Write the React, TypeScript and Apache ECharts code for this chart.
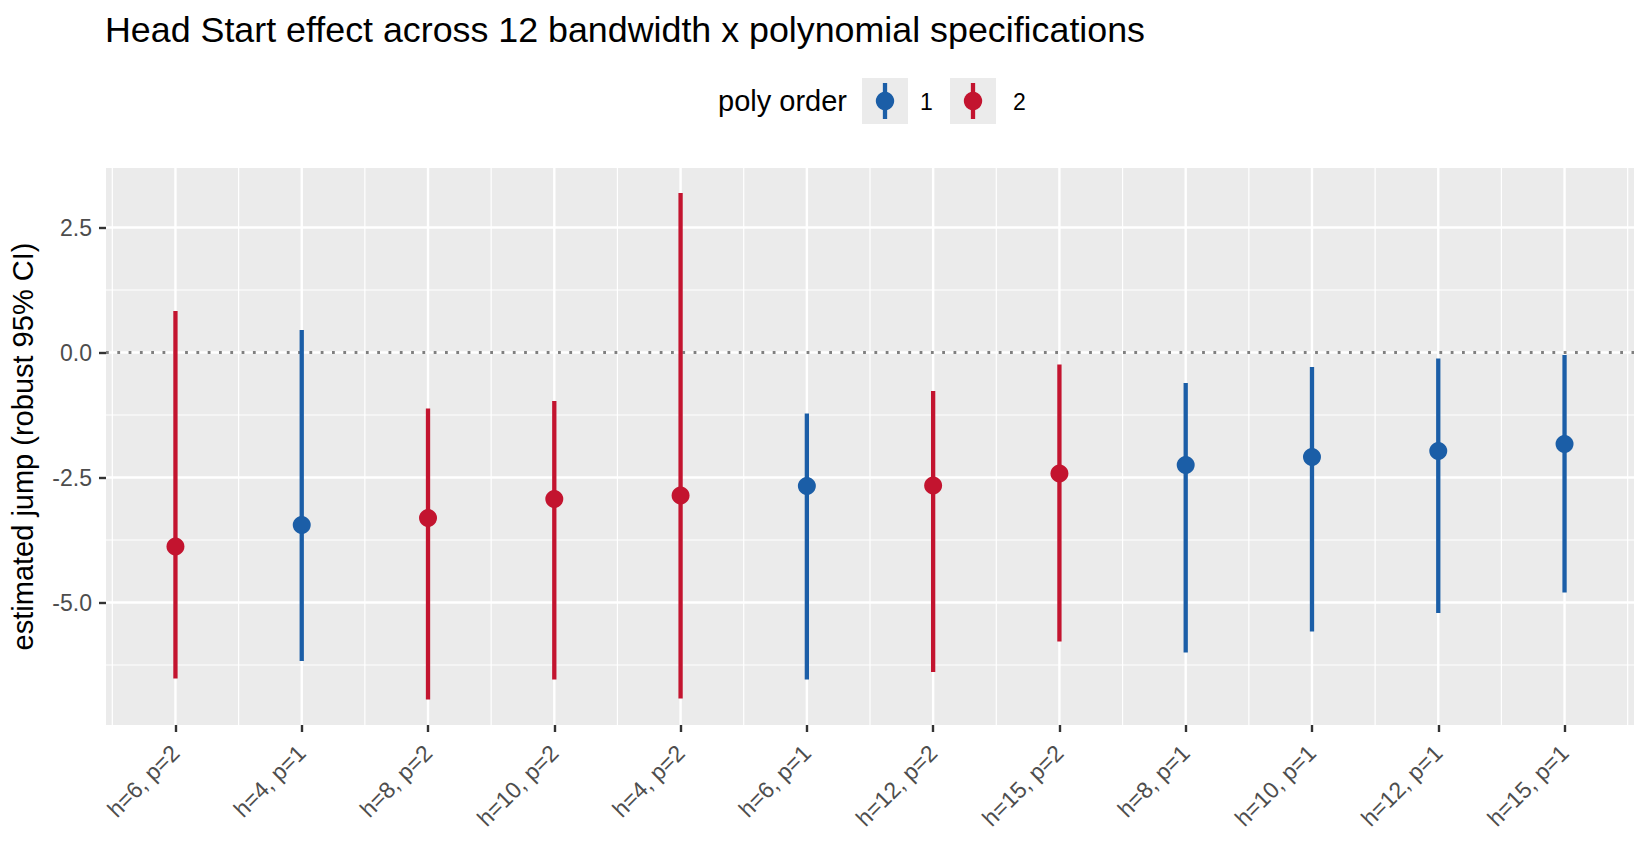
import React, { useEffect, useRef } from "react";
import * as echarts from "echarts";

// ---- data ----
const categories = [
  "h=6, p=2",
  "h=4, p=1",
  "h=8, p=2",
  "h=10, p=2",
  "h=4, p=2",
  "h=6, p=1",
  "h=12, p=2",
  "h=15, p=2",
  "h=8, p=1",
  "h=10, p=1",
  "h=12, p=1",
  "h=15, p=1",
];
const polyOrder = [2, 1, 2, 2, 2, 1, 2, 2, 1, 1, 1, 1];
const estimate = [-3.88, -3.45, -3.31, -2.93, -2.86, -2.67, -2.66, -2.42, -2.25, -2.09, -1.97, -1.83];
const ciLow = [-6.52, -6.17, -6.94, -6.54, -6.92, -6.54, -6.39, -5.78, -6.0, -5.58, -5.21, -4.8];
const ciHigh = [0.83, 0.45, -1.12, -0.97, 3.19, -1.22, -0.77, -0.24, -0.61, -0.29, -0.12, -0.05];

const yTicks = [-5, -2.5, 0, 2.5];
const yMinor = [-6.25, -3.75, -1.25, 1.25];
const xTicks = categories.map((_, i) => i);
const xMinor = [-0.5, 0.5, 1.5, 2.5, 3.5, 4.5, 5.5, 6.5, 7.5, 8.5, 9.5, 10.5, 11.5];
const legendOrders = [1, 2];
const refLine = [0];

const COLORS: Record<number, string> = { 1: "#1B5EA7", 2: "#C3142F" };
const FONT = "'Liberation Sans', Arial, Helvetica, sans-serif";

const vLineRender = (w: number) => (params: any, api: any) => {
  const cs = params.coordSys;
  const x = api.coord([api.value(0), 0])[0];
  return {
    type: "line",
    shape: { x1: x, y1: cs.y, x2: x, y2: cs.y + cs.height },
    style: { stroke: "#FFFFFF", lineWidth: w },
  };
};
const hLineRender = (w: number, stroke: string, dash?: number[]) => (params: any, api: any) => {
  const cs = params.coordSys;
  const y = api.coord([0, api.value(1)])[1];
  return {
    type: "line",
    shape: { x1: cs.x, y1: y, x2: cs.x + cs.width, y2: y },
    style: { stroke, lineWidth: w, lineDash: dash },
  };
};

export default function App() {
  const ref = useRef<HTMLDivElement>(null);
  useEffect(() => {
    document.body.style.margin = "0";
    const chart = echarts.init(ref.current!, null, { renderer: "svg" });

    const series: any[] = [
      { type: "custom", name: "vminor", silent: true, z: 1, data: xMinor.map((v) => [v, 0]), renderItem: vLineRender(1.2) },
      { type: "custom", name: "vmajor", silent: true, z: 1, data: xTicks.map((v) => [v, 0]), renderItem: vLineRender(2.4) },
      { type: "custom", name: "hminor", silent: true, z: 1, data: yMinor.map((v) => [0, v]), renderItem: hLineRender(1.2, "#FFFFFF") },
      { type: "custom", name: "hmajor", silent: true, z: 1, data: yTicks.map((v) => [0, v]), renderItem: hLineRender(2.4, "#FFFFFF") },
      { type: "custom", name: "zero", silent: true, z: 2, data: refLine.map((v) => [0, v]), renderItem: hLineRender(2.8, "#7F7F7F", [2.8, 8.5]) },
    ];

    legendOrders.forEach((ord) => {
      const idx = categories.map((_, i) => i).filter((i) => polyOrder[i] === ord);
      series.push({
        type: "custom",
        name: String(ord),
        z: 3,
        silent: true,
        encode: { x: 0, y: [1, 2] },
        data: idx.map((i) => [i, ciLow[i], ciHigh[i]]),
        renderItem: (params: any, api: any) => {
          const p1 = api.coord([api.value(0), api.value(1)]);
          const p2 = api.coord([api.value(0), api.value(2)]);
          return {
            type: "line",
            shape: { x1: p1[0], y1: p1[1], x2: p2[0], y2: p2[1] },
            style: { stroke: COLORS[ord], lineWidth: 4.3 },
          };
        },
      });
      series.push({
        type: "scatter",
        name: String(ord),
        z: 4,
        silent: true,
        symbol: "circle",
        symbolSize: 18,
        itemStyle: { color: COLORS[ord], opacity: 1 },
        data: idx.map((i) => [i, estimate[i]]),
      });
    });

    // legend drawn as graphic (ggplot-style keys)
    const keyX = [862, 950];
    const labelX = [920, 1013];
    const graphic: any[] = [
      {
        type: "text",
        x: 718,
        y: 101,
        style: { text: "poly order", fontSize: 29, fontFamily: FONT, fill: "#000000", verticalAlign: "middle", align: "left" },
      },
    ];
    legendOrders.forEach((ord, k) => {
      const kx = keyX[k];
      graphic.push({ type: "rect", shape: { x: kx, y: 78, width: 46, height: 46 }, style: { fill: "#EBEBEB" } });
      graphic.push({
        type: "line",
        shape: { x1: kx + 23, y1: 83, x2: kx + 23, y2: 119 },
        style: { stroke: COLORS[ord], lineWidth: 4.3 },
      });
      graphic.push({ type: "circle", shape: { cx: kx + 23, cy: 101, r: 9.2 }, style: { fill: COLORS[ord] } });
      graphic.push({
        type: "text",
        x: labelX[k],
        y: 102,
        style: { text: String(ord), fontSize: 23, fontFamily: FONT, fill: "#000000", verticalAlign: "middle", align: "left" },
      });
    });

    const option: any = {
      animation: false,
      backgroundColor: "#FFFFFF",
      title: {
        text: "Head Start effect across 12 bandwidth x polynomial specifications",
        left: 105,
        top: 12,
        padding: 0,
        textStyle: { fontSize: 35.8, fontWeight: "normal", color: "#000000", fontFamily: FONT },
      },
      grid: {
        left: 105,
        top: 168,
        width: 1529,
        height: 557,
        show: true,
        backgroundColor: "#EBEBEB",
        borderWidth: 0,
        containLabel: false,
      },
      xAxis: {
        type: "value",
        min: -0.55,
        max: 11.55,
        axisLine: { show: false, onZero: false },
        splitLine: { show: false },
        minorSplitLine: { show: false },
        axisTick: { show: true, customValues: xTicks, length: 7, lineStyle: { color: "#333333", width: 2.4 } },
        axisLabel: {
          customValues: xTicks,
          formatter: (v: number) => categories[Math.round(v)] ?? "",
          rotate: 45,
          margin: 24,
          fontSize: 23,
          color: "#4D4D4D",
          fontFamily: FONT,
        },
      },
      yAxis: {
        type: "value",
        min: -7.45,
        max: 3.69,
        axisLine: { show: false, onZero: false },
        splitLine: { show: false },
        axisTick: { show: true, customValues: yTicks, length: 7, lineStyle: { color: "#333333", width: 2.4 } },
        axisLabel: {
          customValues: yTicks,
          formatter: (v: number) => v.toFixed(1),
          fontSize: 23,
          color: "#4D4D4D",
          margin: 14,
          fontFamily: FONT,
        },
        name: "estimated jump (robust 95% CI)",
        nameLocation: "middle",
        nameGap: 69,
        nameTextStyle: { fontSize: 29, color: "#000000", fontFamily: FONT },
      },
      graphic,
      series,
    };

    chart.setOption(option);
    return () => chart.dispose();
  }, []);
  return <div ref={ref} style={{ width: 1651, height: 844 }} />;
}
